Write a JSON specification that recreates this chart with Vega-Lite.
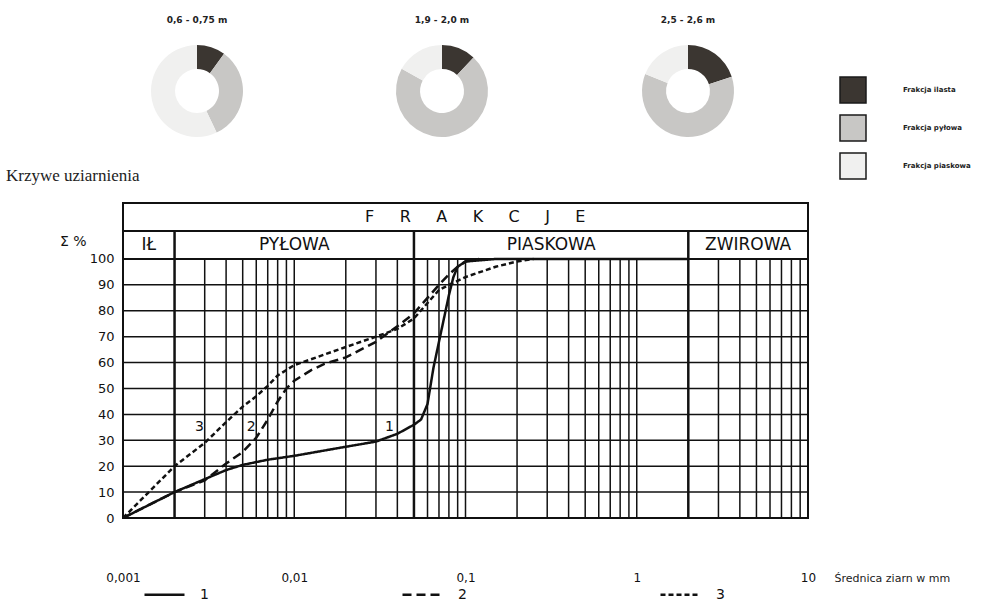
{
  "$schema": "https://vega.github.io/schema/vega-lite/v6.json",
  "padding": {"left": 5, "top": 16, "right": 0, "bottom": 0},
  "background": "white",
  "spacing": 27,
  "config": {
    "view": {"stroke": null},
    "font": "DejaVu Sans",
    "axisY": {"labelOverlap": false}
  },
  "datasets": {
    "frakcje": [
      {"glebokosc": "0,6 - 0,75 m", "frakcja": "Frakcja ilasta", "k": 1, "procent": 10},
      {"glebokosc": "0,6 - 0,75 m", "frakcja": "Frakcja pyłowa", "k": 2, "procent": 33},
      {"glebokosc": "0,6 - 0,75 m", "frakcja": "Frakcja piaskowa", "k": 3, "procent": 57},
      {"glebokosc": "1,9 - 2,0 m", "frakcja": "Frakcja ilasta", "k": 1, "procent": 12},
      {"glebokosc": "1,9 - 2,0 m", "frakcja": "Frakcja pyłowa", "k": 2, "procent": 71},
      {"glebokosc": "1,9 - 2,0 m", "frakcja": "Frakcja piaskowa", "k": 3, "procent": 17},
      {"glebokosc": "2,5 - 2,6 m", "frakcja": "Frakcja ilasta", "k": 1, "procent": 20},
      {"glebokosc": "2,5 - 2,6 m", "frakcja": "Frakcja pyłowa", "k": 2, "procent": 61},
      {"glebokosc": "2,5 - 2,6 m", "frakcja": "Frakcja piaskowa", "k": 3, "procent": 19}
    ],
    "krzywe": [
      {"krzywa": "1", "d": 0.001, "p": 0},
      {"krzywa": "1", "d": 0.002, "p": 10},
      {"krzywa": "1", "d": 0.003, "p": 15},
      {"krzywa": "1", "d": 0.004, "p": 18.5},
      {"krzywa": "1", "d": 0.005, "p": 20.5},
      {"krzywa": "1", "d": 0.007, "p": 22.5},
      {"krzywa": "1", "d": 0.01, "p": 24},
      {"krzywa": "1", "d": 0.02, "p": 27.5},
      {"krzywa": "1", "d": 0.03, "p": 29.5},
      {"krzywa": "1", "d": 0.04, "p": 32.5},
      {"krzywa": "1", "d": 0.05, "p": 36},
      {"krzywa": "1", "d": 0.055, "p": 38},
      {"krzywa": "1", "d": 0.06, "p": 44},
      {"krzywa": "1", "d": 0.065, "p": 58},
      {"krzywa": "1", "d": 0.07, "p": 68},
      {"krzywa": "1", "d": 0.08, "p": 86},
      {"krzywa": "1", "d": 0.085, "p": 93},
      {"krzywa": "1", "d": 0.09, "p": 97},
      {"krzywa": "1", "d": 0.1, "p": 99},
      {"krzywa": "1", "d": 0.15, "p": 100},
      {"krzywa": "1", "d": 2, "p": 100},
      {"krzywa": "2", "d": 0.001, "p": 0},
      {"krzywa": "2", "d": 0.002, "p": 10},
      {"krzywa": "2", "d": 0.003, "p": 14.5},
      {"krzywa": "2", "d": 0.004, "p": 21},
      {"krzywa": "2", "d": 0.005, "p": 25.5},
      {"krzywa": "2", "d": 0.006, "p": 31},
      {"krzywa": "2", "d": 0.007, "p": 38},
      {"krzywa": "2", "d": 0.008, "p": 45},
      {"krzywa": "2", "d": 0.009, "p": 50},
      {"krzywa": "2", "d": 0.01, "p": 53},
      {"krzywa": "2", "d": 0.0125, "p": 57},
      {"krzywa": "2", "d": 0.015, "p": 59.5},
      {"krzywa": "2", "d": 0.02, "p": 62},
      {"krzywa": "2", "d": 0.03, "p": 68},
      {"krzywa": "2", "d": 0.04, "p": 74},
      {"krzywa": "2", "d": 0.05, "p": 79},
      {"krzywa": "2", "d": 0.06, "p": 85},
      {"krzywa": "2", "d": 0.07, "p": 90},
      {"krzywa": "2", "d": 0.08, "p": 94},
      {"krzywa": "2", "d": 0.09, "p": 97},
      {"krzywa": "2", "d": 0.1, "p": 99},
      {"krzywa": "2", "d": 0.12, "p": 100},
      {"krzywa": "3", "d": 0.001, "p": 0},
      {"krzywa": "3", "d": 0.002, "p": 20},
      {"krzywa": "3", "d": 0.003, "p": 29},
      {"krzywa": "3", "d": 0.004, "p": 37},
      {"krzywa": "3", "d": 0.005, "p": 43},
      {"krzywa": "3", "d": 0.006, "p": 47},
      {"krzywa": "3", "d": 0.007, "p": 51},
      {"krzywa": "3", "d": 0.008, "p": 55},
      {"krzywa": "3", "d": 0.01, "p": 59},
      {"krzywa": "3", "d": 0.02, "p": 66},
      {"krzywa": "3", "d": 0.03, "p": 70},
      {"krzywa": "3", "d": 0.04, "p": 73},
      {"krzywa": "3", "d": 0.05, "p": 77},
      {"krzywa": "3", "d": 0.06, "p": 83},
      {"krzywa": "3", "d": 0.07, "p": 88},
      {"krzywa": "3", "d": 0.08, "p": 90},
      {"krzywa": "3", "d": 0.1, "p": 93},
      {"krzywa": "3", "d": 0.15, "p": 97},
      {"krzywa": "3", "d": 0.2, "p": 99},
      {"krzywa": "3", "d": 0.25, "p": 100}
    ],
    "pionowe": [
      {"d": 0.003}, {"d": 0.004}, {"d": 0.005}, {"d": 0.006}, {"d": 0.007}, {"d": 0.008}, {"d": 0.009},
      {"d": 0.01}, {"d": 0.02}, {"d": 0.03}, {"d": 0.04}, {"d": 0.06}, {"d": 0.07}, {"d": 0.08}, {"d": 0.09},
      {"d": 0.1}, {"d": 0.2}, {"d": 0.3}, {"d": 0.4}, {"d": 0.5}, {"d": 0.6}, {"d": 0.7}, {"d": 0.8}, {"d": 0.9},
      {"d": 1}, {"d": 3}, {"d": 4}, {"d": 5}, {"d": 6}, {"d": 7}, {"d": 8}, {"d": 9}
    ],
    "granice": [{"d": 0.002}, {"d": 0.05}, {"d": 2}],
    "poziome": [
      {"p": 0}, {"p": 10}, {"p": 20}, {"p": 30}, {"p": 40}, {"p": 50}, {"p": 60}, {"p": 70}, {"p": 80}, {"p": 90}
    ],
    "klasy": [
      {"nazwa": "IŁ", "od": 0.001, "do": 0.002},
      {"nazwa": "PYŁOWA", "od": 0.002, "do": 0.05},
      {"nazwa": "PIASKOWA", "od": 0.05, "do": 2},
      {"nazwa": "ZWIROWA", "od": 2, "do": 10}
    ],
    "etykiety": [
      {"etykieta": "3", "d": 0.0028, "p": 35},
      {"etykieta": "2", "d": 0.0056, "p": 35},
      {"etykieta": "1", "d": 0.036, "p": 35}
    ]
  },
  "vconcat": [
    {
      "spacing": 0,
      "hconcat": [
        {
          "width": 148, "height": 96,
          "title": {"text": "0,6 - 0,75 m", "fontSize": 9, "fontWeight": "bold", "font": "DejaVu Sans", "offset": 18, "anchor": "middle", "color": "#222"},
          "data": {"name": "frakcje"},
          "transform": [{"filter": "datum.glebokosc == '0,6 - 0,75 m'"}],
          "mark": {"type": "arc", "innerRadius": 22, "outerRadius": 46},
          "encoding": {
            "theta": {"field": "procent", "type": "quantitative", "stack": true},
            "order": {"field": "k", "type": "quantitative"},
            "color": {"field": "frakcja", "type": "nominal",
              "scale": {"domain": ["Frakcja ilasta", "Frakcja pyłowa", "Frakcja piaskowa"], "range": ["#3b3631", "#c8c7c5", "#f0f0ef"]},
              "legend": {"title": null, "orient": "none", "legendX": 716, "legendY": 33, "symbolType": "square", "symbolSize": 676, "symbolStrokeColor": "#1a1a1a", "symbolStrokeWidth": 1.5, "symbolOpacity": 1, "labelFontSize": 7, "labelFontWeight": "bold", "labelFont": "DejaVu Sans", "labelColor": "#222", "labelOffset": 36, "rowPadding": 6, "padding": 0}}
          }
        },
        {
          "width": 342, "height": 96,
          "title": {"text": "1,9 - 2,0 m", "fontSize": 9, "fontWeight": "bold", "font": "DejaVu Sans", "offset": 18, "anchor": "middle", "color": "#222"},
          "data": {"name": "frakcje"},
          "transform": [{"filter": "datum.glebokosc == '1,9 - 2,0 m'"}],
          "mark": {"type": "arc", "innerRadius": 22, "outerRadius": 46},
          "encoding": {
            "theta": {"field": "procent", "type": "quantitative", "stack": true},
            "order": {"field": "k", "type": "quantitative"},
            "color": {"field": "frakcja", "type": "nominal",
              "scale": {"domain": ["Frakcja ilasta", "Frakcja pyłowa", "Frakcja piaskowa"], "range": ["#3b3631", "#c8c7c5", "#f0f0ef"]}}
          }
        },
        {
          "width": 150, "height": 96,
          "title": {"text": "2,5 - 2,6 m", "fontSize": 9, "fontWeight": "bold", "font": "DejaVu Sans", "offset": 18, "anchor": "middle", "color": "#222"},
          "data": {"name": "frakcje"},
          "transform": [{"filter": "datum.glebokosc == '2,5 - 2,6 m'"}],
          "mark": {"type": "arc", "innerRadius": 22, "outerRadius": 46},
          "encoding": {
            "theta": {"field": "procent", "type": "quantitative", "stack": true},
            "order": {"field": "k", "type": "quantitative"},
            "color": {"field": "frakcja", "type": "nominal",
              "scale": {"domain": ["Frakcja ilasta", "Frakcja pyłowa", "Frakcja piaskowa"], "range": ["#3b3631", "#c8c7c5", "#f0f0ef"]}}
          }
        }
      ]
    },
    {
      "width": 685,
      "height": 315,
      "view": {"stroke": "#111", "strokeWidth": 2},
      "title": {"text": "Krzywe uziarnienia", "anchor": "start", "frame": "group", "dx": -117, "font": "Liberation Serif", "fontSize": 17, "fontWeight": "normal", "offset": 18, "color": "#222"},
      "layer": [
        {
          "data": {"name": "pionowe"},
          "mark": {"type": "rule", "color": "#111", "strokeWidth": 1.5},
          "encoding": {
            "x": {"field": "d", "type": "quantitative", "scale": {"type": "log", "domain": [0.001, 10]},
              "axis": {"values": [0.001, 0.01, 0.1, 1, 10], "labelExpr": "replace(toString(datum.value), '.', ',')", "domain": false, "ticks": false, "grid": false, "labelPadding": 54, "labelFontSize": 12, "labelFont": "DejaVu Sans", "labelColor": "#111", "labelFlush": false, "labelOverlap": false, "labelBound": false,
                "title": "Średnica ziarn w mm", "titleX": 711, "titleY": 60, "titleAlign": "left", "titleBaseline": "middle", "titleFontSize": 11, "titleFontWeight": "normal", "titleColor": "#222", "titleFont": "DejaVu Sans"}},
            "y": {"datum": 0, "type": "quantitative", "scale": {"domain": [0, 121.6], "nice": false},
              "axis": {"values": [0, 10, 20, 30, 40, 50, 60, 70, 80, 90, 100], "tickCount": 11, "domain": false, "ticks": false, "grid": false, "labelPadding": 9, "labelFontSize": 13, "labelFont": "DejaVu Sans", "labelColor": "#111", "labelOverlap": false, "labelBound": false,
                "title": "Σ %", "titleAngle": 0, "titleX": -37, "titleY": 38, "titleAlign": "right", "titleBaseline": "middle", "titleFontSize": 14, "titleFontWeight": "normal", "titleColor": "#111", "titleFont": "DejaVu Sans"}},
            "y2": {"datum": 100}
          }
        },
        {
          "data": {"name": "granice"},
          "mark": {"type": "rule", "color": "#111", "strokeWidth": 2.5},
          "encoding": {
            "x": {"field": "d", "type": "quantitative", "scale": {"type": "log", "domain": [0.001, 10]}},
            "y": {"datum": 0, "type": "quantitative", "scale": {"domain": [0, 121.6], "nice": false}},
            "y2": {"datum": 110.8}
          }
        },
        {
          "data": {"name": "poziome"},
          "mark": {"type": "rule", "color": "#111", "strokeWidth": 1.5},
          "encoding": {
            "y": {"field": "p", "type": "quantitative", "scale": {"domain": [0, 121.6], "nice": false},
              "axis": {"values": [0, 10, 20, 30, 40, 50, 60, 70, 80, 90, 100], "tickCount": 11, "labelOverlap": false}}
          }
        },
        {
          "data": {"values": [{"p": 100}, {"p": 110.8}]},
          "mark": {"type": "rule", "color": "#111", "strokeWidth": 2},
          "encoding": {
            "y": {"field": "p", "type": "quantitative", "scale": {"domain": [0, 121.6], "nice": false},
              "axis": {"values": [0, 10, 20, 30, 40, 50, 60, 70, 80, 90, 100], "tickCount": 11, "labelOverlap": false}}
          }
        },
        {
          "data": {"name": "klasy"},
          "transform": [{"calculate": "sqrt(datum.od * datum.do)", "as": "srodek"}],
          "mark": {"type": "text", "font": "DejaVu Sans", "fontSize": 17, "color": "#111", "baseline": "middle", "align": "center"},
          "encoding": {
            "x": {"field": "srodek", "type": "quantitative", "scale": {"type": "log", "domain": [0.001, 10]}},
            "y": {"datum": 105.4, "type": "quantitative", "scale": {"domain": [0, 121.6], "nice": false}},
            "text": {"field": "nazwa"}
          }
        },
        {
          "data": {"values": [{"napis": "F\u00a0\u00a0\u00a0\u00a0\u00a0R\u00a0\u00a0\u00a0\u00a0\u00a0A\u00a0\u00a0\u00a0\u00a0\u00a0K\u00a0\u00a0\u00a0\u00a0\u00a0C\u00a0\u00a0\u00a0\u00a0\u00a0J\u00a0\u00a0\u00a0\u00a0\u00a0E", "d": 0.114, "p": 116.2}]},
          "mark": {"type": "text", "font": "DejaVu Sans", "fontSize": 16, "color": "#111", "baseline": "middle", "align": "center"},
          "encoding": {
            "x": {"field": "d", "type": "quantitative", "scale": {"type": "log", "domain": [0.001, 10]}},
            "y": {"field": "p", "type": "quantitative", "scale": {"domain": [0, 121.6], "nice": false},
              "axis": {"values": [0, 10, 20, 30, 40, 50, 60, 70, 80, 90, 100], "tickCount": 11, "labelOverlap": false}},
            "text": {"field": "napis"}
          }
        },
        {
          "data": {"name": "krzywe"},
          "mark": {"type": "line", "color": "#111", "strokeWidth": 2.5},
          "encoding": {
            "x": {"field": "d", "type": "quantitative", "scale": {"type": "log", "domain": [0.001, 10]}},
            "y": {"field": "p", "type": "quantitative", "scale": {"domain": [0, 121.6], "nice": false},
              "axis": {"values": [0, 10, 20, 30, 40, 50, 60, 70, 80, 90, 100], "tickCount": 11, "labelOverlap": false}},
            "strokeDash": {"field": "krzywa", "type": "nominal",
              "scale": {"domain": ["1", "2", "3"], "range": [[1, 0], [9, 5], [5, 3]]},
              "legend": {"title": null, "orient": "none", "legendX": 20, "legendY": 530, "direction": "horizontal", "columns": 3, "columnPadding": 188, "symbolType": "stroke", "symbolSize": 1600, "symbolStrokeWidth": 2.5, "symbolStrokeColor": "#111", "labelFontSize": 14, "labelFont": "DejaVu Sans", "labelColor": "#111", "labelOffset": 14, "labelBaseline": "middle", "padding": 0}}
          }
        },
        {
          "data": {"name": "etykiety"},
          "mark": {"type": "text", "font": "DejaVu Sans", "fontSize": 14, "color": "#111", "baseline": "middle", "align": "center"},
          "encoding": {
            "x": {"field": "d", "type": "quantitative", "scale": {"type": "log", "domain": [0.001, 10]}},
            "y": {"field": "p", "type": "quantitative", "scale": {"domain": [0, 121.6], "nice": false},
              "axis": {"values": [0, 10, 20, 30, 40, 50, 60, 70, 80, 90, 100], "tickCount": 11, "labelOverlap": false}},
            "text": {"field": "etykieta"}
          }
        }
      ]
    }
  ]
}
